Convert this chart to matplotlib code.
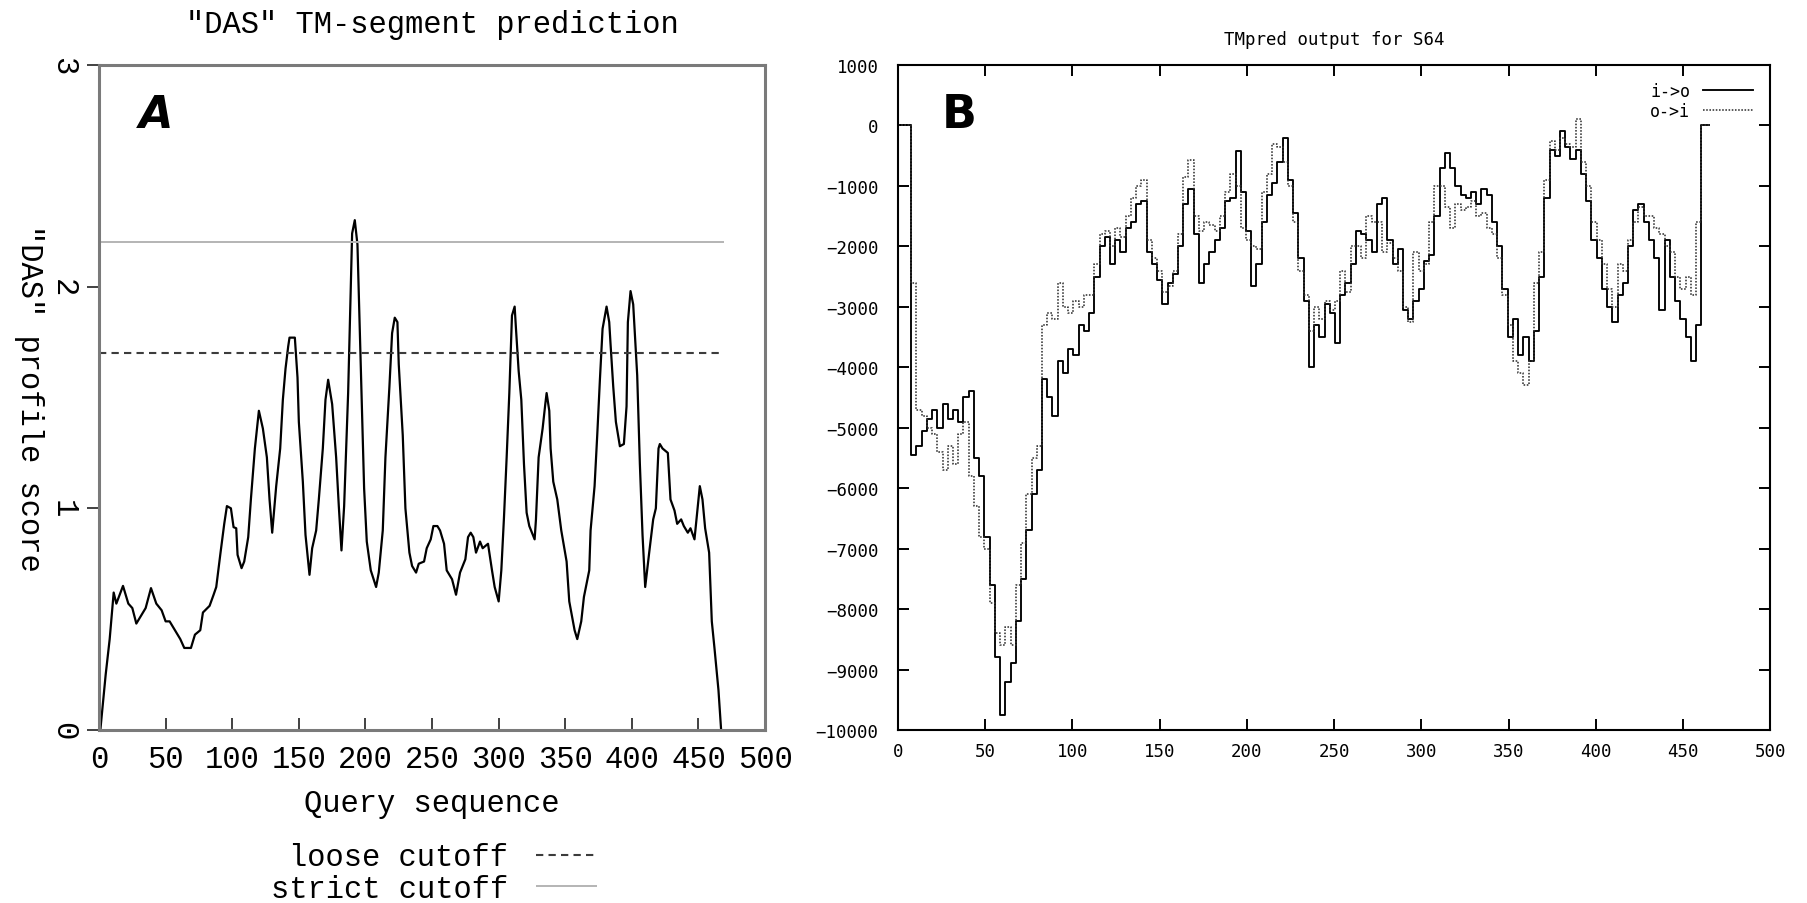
import numpy as np
import matplotlib.pyplot as plt

# "DAS" profile along the query sequence
das_pos = [1, 5, 8, 11, 13, 18, 22, 25, 28, 32, 35, 39, 43, 47, 50, 53, 57, 61, 64, 69,
           72, 76, 78, 83, 86, 88, 91, 94, 96, 99, 101, 103, 104, 107, 109, 112, 114, 117, 120, 123,
           126, 128, 130, 133, 136, 138, 140, 142, 143, 145, 147, 149, 150, 153, 155, 158, 160, 163, 165, 168,
           170, 172, 175, 178, 180, 182, 184, 187, 189, 190, 192, 194, 195, 197, 199, 201, 204, 208, 210, 213,
           215, 218, 220, 222, 224, 225, 228, 230, 233, 235, 238, 240, 244, 246, 249, 251, 254, 256, 259, 261,
           265, 268, 271, 275, 277, 279, 281, 283, 286, 288, 292, 295, 297, 300, 302, 304, 306, 308, 310, 312,
           313, 315, 317, 319, 321, 323, 327, 328, 330, 333, 335, 336, 338, 339, 341, 344, 347, 351, 353, 357,
           359, 362, 364, 368, 369, 372, 374, 376, 378, 381, 383, 384, 386, 388, 391, 394, 396, 397, 399, 401,
           404, 406, 408, 410, 413, 416, 418, 420, 421, 423, 427, 429, 432, 434, 437, 439, 442, 444, 447, 449,
           451, 453, 455, 458, 460, 462, 465, 467]
das_score = [0.00, 0.25, 0.41, 0.62, 0.57, 0.65, 0.57, 0.55, 0.48, 0.52, 0.55, 0.64, 0.57, 0.54, 0.49, 0.49, 0.45, 0.41, 0.37, 0.37,
             0.43, 0.45, 0.53, 0.56, 0.61, 0.645, 0.79, 0.93, 1.01, 1.00, 0.915, 0.91, 0.79, 0.73, 0.76, 0.87, 1.04, 1.27, 1.44, 1.36,
             1.23, 1.04, 0.89, 1.10, 1.27, 1.49, 1.63, 1.73, 1.77, 1.77, 1.77, 1.59, 1.39, 1.12, 0.88, 0.70, 0.82, 0.90, 1.04, 1.27,
             1.49, 1.58, 1.47, 1.23, 1.01, 0.81, 1.01, 1.52, 2.00, 2.24, 2.30, 2.19, 1.97, 1.52, 1.09, 0.85, 0.72, 0.645, 0.71, 0.90,
             1.23, 1.55, 1.79, 1.86, 1.84, 1.65, 1.33, 1.00, 0.80, 0.74, 0.71, 0.75, 0.76, 0.82, 0.86, 0.92, 0.92, 0.90, 0.84, 0.72,
             0.68, 0.61, 0.71, 0.77, 0.87, 0.89, 0.87, 0.80, 0.85, 0.82, 0.84, 0.72, 0.645, 0.58, 0.72, 0.96, 1.23, 1.52, 1.87, 1.91,
             1.81, 1.62, 1.49, 1.20, 0.98, 0.92, 0.86, 0.95, 1.23, 1.36, 1.47, 1.52, 1.44, 1.27, 1.12, 1.04, 0.90, 0.76, 0.58, 0.45,
             0.41, 0.49, 0.60, 0.72, 0.90, 1.10, 1.33, 1.58, 1.81, 1.91, 1.84, 1.74, 1.55, 1.39, 1.28, 1.29, 1.46, 1.84, 1.98, 1.92,
             1.60, 1.20, 0.88, 0.645, 0.80, 0.95, 1.00, 1.27, 1.29, 1.27, 1.25, 1.04, 0.99, 0.93, 0.95, 0.92, 0.89, 0.91, 0.86, 0.98,
             1.10, 1.04, 0.91, 0.80, 0.49, 0.37, 0.18, 0.00]
loose_cutoff = 1.7
strict_cutoff = 2.2
seq_end = 469

# TMpred scores, one value every 3 residues
tm_pos = np.arange(0, 466, 3)
tm_io = [0, 0, 0, -5450, -5300, -5050, -4850, -4700, -5000, -4600,
         -4850, -4700, -4900, -4500, -4400, -5500, -5800, -6800, -7600, -8800,
         -9750, -9200, -8900, -8200, -7500, -6700, -6100, -5700, -4200, -4500,
         -4800, -3900, -4100, -3700, -3800, -3300, -3400, -3100, -2500, -2000,
         -1850, -2300, -1900, -2100, -1700, -1600, -1300, -1250, -2100, -2300,
         -2550, -2950, -2600, -2450, -2000, -1300, -1050, -1800, -2600, -2300,
         -2100, -1900, -1700, -1250, -1200, -420, -1100, -1750, -2650, -2300,
         -1600, -1150, -950, -600, -200, -900, -1450, -2200, -2900, -4000,
         -3300, -3500, -2950, -3100, -3600, -2800, -2600, -2300, -1750, -1800,
         -1900, -2100, -1300, -1200, -1900, -2300, -2050, -3050, -3200, -2900,
         -2700, -2250, -2150, -1500, -700, -450, -700, -1000, -1150, -1200,
         -1100, -1300, -1050, -1150, -1600, -2000, -2700, -3500, -3200, -3800,
         -3500, -3900, -3400, -2500, -1200, -400, -500, -100, -350, -550,
         -400, -800, -1250, -1900, -2200, -2700, -3000, -3250, -2800, -2600,
         -2000, -1400, -1300, -1600, -1900, -2200, -3050, -1900, -2500, -2900,
         -3200, -3500, -3900, -3300, 0, 0]
tm_oi = [0, 0, 0, -2600, -4700, -4800, -5000, -5100, -5400, -5700,
         -5300, -5600, -5100, -4900, -5800, -6300, -6800, -7000, -7900, -8400,
         -8600, -8300, -8600, -7600, -6900, -6100, -5500, -5300, -3300, -3100,
         -3200, -2600, -3000, -3100, -2900, -3000, -2800, -2800, -2300, -1800,
         -1750, -2000, -1700, -1850, -1500, -1200, -1000, -900, -1900, -2200,
         -2400, -2750, -2650, -2400, -1800, -850, -570, -1500, -1750, -1600,
         -1650, -1750, -1500, -1100, -800, -1000, -1700, -1900, -2000, -2050,
         -1100, -800, -300, -350, -600, -1000, -1600, -2400, -2800, -3400,
         -3000, -3200, -2900, -3050, -2900, -2400, -2750, -2000, -2000, -2200,
         -1500, -1600, -1600, -2100, -1950, -2200, -2400, -3000, -3250, -2100,
         -2400, -2300, -1600, -1000, -1000, -1350, -1700, -1300, -1400, -1350,
         -1250, -1500, -1450, -1700, -1800, -2200, -2800, -3300, -3900, -4100,
         -4300, -3900, -2600, -2100, -900, -250, -400, -200, -300, -350,
         100, -600, -1000, -1600, -1900, -2300, -2700, -3000, -2300, -2400,
         -1900, -1600, -1350, -1500, -1500, -1700, -1800, -2000, -2100, -2500,
         -2700, -2500, -2800, -1600, 0, 0]

mono_a = 'Liberation Mono'
mono_b = 'DejaVu Sans Mono'

fig = plt.figure(figsize=(18.07, 9.04), dpi=100)

# ---- left panel: DAS profile ----
axA = fig.add_axes([0.0548, 0.1914, 0.3686, 0.7356])
axA.plot(das_pos, das_score, color='black', lw=1.6)
axA.hlines(loose_cutoff, 0, seq_end, colors='#3c3c3c', linestyles=(0, (3.5, 2.5)),
           lw=1.5, label='loose cutoff')
axA.hlines(strict_cutoff, 0, seq_end, colors='#b4b4b4', lw=1.4, label='strict cutoff')
axA.set_xlim(0, 500)
axA.set_ylim(0, 3)
axA.set_xticks(range(0, 501, 50))
axA.set_yticks([0, 1, 2, 3])
for s in axA.spines.values():
    s.set_color('#7a7a7a')
    s.set_linewidth(2.2)
axA.tick_params(axis='x', direction='in', length=9, width=1.3, color='#333333',
                labelsize=22, pad=10)
axA.tick_params(axis='y', direction='out', length=9, width=1.3, color='#333333',
                labelsize=22, pad=6)
for lbl in axA.get_xticklabels() + axA.get_yticklabels():
    lbl.set_family(mono_a)
for lbl in axA.get_yticklabels():
    lbl.set_rotation(270)
    lbl.set_va('center')
axA.set_title('"DAS" TM-segment prediction', family=mono_a, fontsize=22, pad=24)
axA.set_xlabel('Query sequence', family=mono_a, fontsize=22, labelpad=10)
axA.set_ylabel('"DAS" profile score', family=mono_a, fontsize=22, rotation=270,
               va='center', ha='center')
axA.yaxis.set_label_coords(-0.105, 0.5)
axA.text(0.06, 0.925, 'A', transform=axA.transAxes, fontsize=32, fontweight='heavy',
         style='italic', family='DejaVu Sans', va='center')
fig.legend(*axA.get_legend_handles_labels(), loc='center right',
           bbox_to_anchor=(612 / 1807, 1 - 874 / 904), markerfirst=False, frameon=False,
           prop={'family': mono_a, 'size': 22}, handlelength=2.0, labelspacing=0.05,
           handletextpad=0.9, borderpad=0)

# ---- right panel: TMpred ----
axB = fig.add_axes([0.4970, 0.1914, 0.4826, 0.7356])
axB.plot(tm_pos, tm_io, color='black', lw=1.35, drawstyle='steps-mid', label='i->o')
axB.plot(tm_pos, tm_oi, color='#333333', lw=1.15, ls=(0, (1, 1)), drawstyle='steps-mid',
         label='o->i')
axB.set_xlim(0, 500)
axB.set_ylim(-10000, 1000)
axB.set_xticks(range(0, 501, 50))
axB.set_yticks(range(-10000, 1001, 1000))
for s in axB.spines.values():
    s.set_linewidth(1.5)
axB.tick_params(direction='in', top=True, right=True, length=8, width=1.4, labelsize=12.5)
axB.tick_params(axis='x', pad=9)
axB.tick_params(axis='y', pad=14)
for lbl in axB.get_xticklabels() + axB.get_yticklabels():
    lbl.set_family(mono_b)
axB.set_title('TMpred output for S64', family=mono_b, fontsize=12.5, pad=15)
axB.text(0.05, 0.925, 'B', transform=axB.transAxes, fontsize=33, fontweight='heavy',
         family='DejaVu Sans', va='center')
axB.legend(loc='upper right', markerfirst=False, frameon=False,
           prop={'family': mono_b, 'size': 12}, handlelength=3.0, labelspacing=0.15,
           handletextpad=0.8, borderaxespad=0.6)

fig.savefig('out.png', dpi=100)
